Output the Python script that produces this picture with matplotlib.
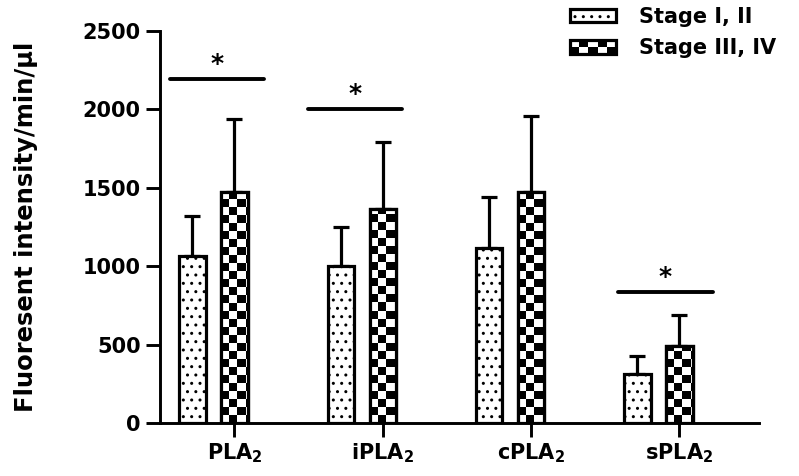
import numpy as np
import matplotlib
matplotlib.use("Agg")
import matplotlib.pyplot as plt
from matplotlib.patches import Rectangle
from matplotlib.legend_handler import HandlerBase

plt.rcParams["font.family"] = "DejaVu Sans"
plt.rcParams["font.weight"] = "bold"
plt.rcParams["mathtext.fontset"] = "dejavusans"
plt.rcParams["hatch.linewidth"] = 1.0

# data
categories = [r"$\mathbf{PLA_2}$", r"$\mathbf{iPLA_2}$", r"$\mathbf{cPLA_2}$", r"$\mathbf{sPLA_2}$"]
early_mean = [1065, 1000, 1115, 312]
early_err = [255, 250, 326, 115]
late_mean = [1473, 1365, 1473, 491]
late_err = [466, 427, 485, 198]
series_labels = ["Stage I, II", "Stage III, IV"]

# significance brackets: (group index, left offset, right offset, height)
sig_group = [0, 1, 3]
sig_left = [-0.435, -0.502, -0.415]
sig_right = [0.199, 0.131, 0.226]
sig_y = [2194, 2003, 835]

OFFSET = 0.283
WIDTH = 0.178
LW = 2.3
CELL_PX = 8


class HandlerChecker(HandlerBase):
    def create_artists(self, legend, orig_handle, xdescent, ydescent,
                       width, height, fontsize, trans):
        arts = []
        ncol, nrow = 5, 2
        cw, ch = width / ncol, height / nrow
        for r in range(nrow):
            for c in range(ncol):
                if (r + c) % 2 == 0:
                    arts.append(Rectangle((-xdescent + c * cw, -ydescent + r * ch), cw, ch,
                                          facecolor="black", edgecolor="none", transform=trans))
        arts.append(Rectangle((-xdescent, -ydescent), width, height, facecolor="none",
                              edgecolor="black", lw=LW, transform=trans))
        return arts


fig = plt.figure(figsize=(7.99, 4.76), dpi=100)
ax = fig.add_axes([160 / 799, 1 - 423 / 476, 599 / 799, 392 / 476])

x = np.arange(len(categories))
ax.set_xlim(-0.502, 3.537)
ax.set_ylim(0, 2500)

ax.bar(x - OFFSET, early_mean, WIDTH, color="white", edgecolor="black",
       hatch="..", lw=LW, zorder=2)
late_bars = ax.bar(x, late_mean, WIDTH, color="white", edgecolor="black",
                   lw=LW, zorder=2)

# checkerboard fill for the late-stage bars
px_x = ax.transData.transform((1, 0))[0] - ax.transData.transform((0, 0))[0]
px_y = ax.transData.transform((0, 1))[1] - ax.transData.transform((0, 0))[1]
cw, ch = CELL_PX / px_x, CELL_PX / px_y
for bar in late_bars:
    x0, w, h = bar.get_x(), bar.get_width(), bar.get_height()
    ncol = int(np.ceil(w / cw)) + 1
    nrow = int(np.ceil(h / ch)) + 1
    ii, jj = np.indices((nrow, ncol))
    board = (ii + jj) % 2
    im = ax.imshow(board, cmap="gray_r", vmin=0, vmax=1, origin="lower",
                   extent=(x0, x0 + ncol * cw, 0, nrow * ch),
                   interpolation="nearest", aspect="auto", zorder=2.2)
    im.set_clip_path(bar)
    ax.add_patch(Rectangle((x0, 0), w, h, facecolor="none", edgecolor="black",
                           lw=LW, zorder=2.5))

ax.errorbar(x - OFFSET, early_mean, yerr=[np.zeros(4), early_err], fmt="none",
            ecolor="black", elinewidth=LW, capsize=6, capthick=LW, zorder=1.5)
ax.errorbar(x, late_mean, yerr=[np.zeros(4), late_err], fmt="none",
            ecolor="black", elinewidth=LW, capsize=6, capthick=LW, zorder=1.5)

for g, l, r, y in zip(sig_group, sig_left, sig_right, sig_y):
    ax.plot([g + l, g + r], [y, y], color="black", lw=2.8,
            solid_capstyle="round", zorder=3)
    ax.text(g + (l + r) / 2, y + 95, "*", ha="center", va="center",
            fontsize=18, fontweight="bold")

ax.set_xlim(-0.502, 3.537)
ax.set_ylim(0, 2500)
ax.set_yticks([0, 500, 1000, 1500, 2000, 2500])
ax.set_xticks(x)
ax.set_xticklabels(categories)
ax.tick_params(axis="both", labelsize=15, width=2.1, length=10, direction="out")
ax.tick_params(axis="y", pad=4)
ax.tick_params(axis="x", pad=3)
for side in ["top", "right"]:
    ax.spines[side].set_visible(False)
for side in ["left", "bottom"]:
    ax.spines[side].set_linewidth(2.1)

ax.set_ylabel("Fluoresent intensity/min/µl", fontsize=17.5, fontweight="bold")
ax.yaxis.set_label_coords(-0.204, 0.5)

h_early = Rectangle((0, 0), 1, 1, facecolor="white", edgecolor="black",
                    hatch="..", lw=LW)
h_late = Rectangle((0, 0), 1, 1, facecolor="white", edgecolor="black", lw=LW)
ax.legend([h_early, h_late], series_labels, loc="upper left",
          bbox_to_anchor=(570 / 799, 1 - 7 / 476), bbox_transform=fig.transFigure,
          frameon=False, fontsize=15, handlelength=2.2, handleheight=0.6,
          handletextpad=1.1, labelspacing=0.55, borderpad=0, borderaxespad=0,
          handler_map={h_late: HandlerChecker()})

fig.savefig("out.png", dpi=100)
